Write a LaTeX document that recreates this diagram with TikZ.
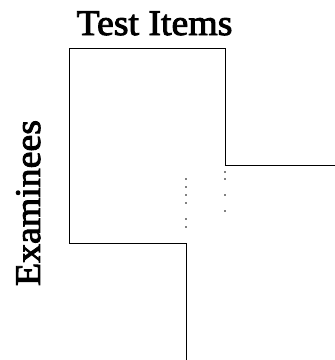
\documentclass[tikz,border=0pt]{standalone}
\usepackage{fontspec}
\setmainfont{Liberation Serif}
\newfontfamily\labelfont[FakeBold=2.5,FakeStretch=1.05]{Liberation Serif}
\begin{document}
\begin{tikzpicture}[x=1pt,y=-1pt,
  outline/.style={line width=0.8pt,line join=miter},
  gapdot/.style={fill=black,draw=none},
  label/.style={font=\labelfont\fontsize{36}{40}\selectfont,inner sep=0pt}]
\useasboundingbox (0,0) rectangle (335,360);
% staircase outline of the data matrix
\draw[outline] (225,165) -- (225,48) -- (69,48) -- (69,243) -- (186,243) -- (186,360);
\draw[outline] (225,165) -- (335,165);
% dotted continuations of the missing blocks
\foreach \y in {179,187,195,203,219,227}
  \fill[gapdot] (186,\y) circle (0.8);
\foreach \y in {172,179,195,211}
  \fill[gapdot] (225,\y) circle (0.8);
% axis labels
\node[label,anchor=base] (items) at (154.5,35) {Test Items};
\node[label,anchor=base,rotate=90] (exam) at (40,203) {Examinees};
\end{tikzpicture}
\end{document}
